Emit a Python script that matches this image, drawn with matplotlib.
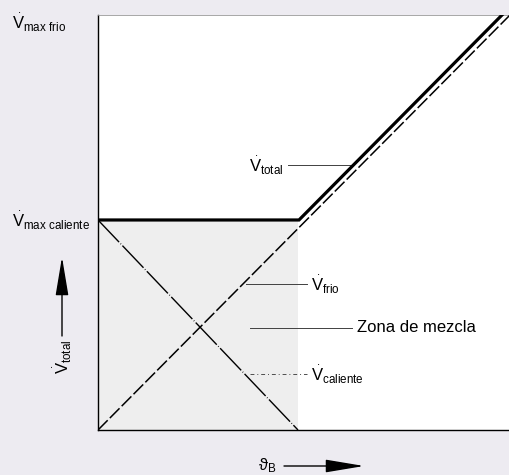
import matplotlib
matplotlib.use('Agg')
import matplotlib.pyplot as plt
import numpy as np

plt.rcParams['font.family'] = ['Liberation Sans', 'DejaVu Sans']
plt.rcParams['mathtext.fontset'] = 'custom'
plt.rcParams['mathtext.rm'] = 'Liberation Sans'
plt.rcParams['mathtext.it'] = 'Liberation Sans'
plt.rcParams['mathtext.bf'] = 'Liberation Sans:bold'

# curves (x: mixing temperature, y: flow, mixing zone ends at x = 1)
x_frio = [0.0, 2.06]
y_frio = [0.0, 1.976]
x_cal = [0.0, 1.0]
y_cal = [1.0, 0.0]
x_total = [0.0, 1.005, 2.02]
y_total = [1.0, 1.0, 1.976]
mix_x = [0.0, 1.0]
mix_y = [0.0, 1.0]

# leader lines: (y, x start, x end)
leaders_y = [1.262, 0.695, 0.486, 0.267]
leaders_x0 = [0.95, 0.74, 0.76, 0.76]
leaders_x1 = [1.27, 1.045, 1.27, 1.045]


def vdot(sub):
    # dot over the V, nudged to the middle of the glyph
    return r'$\overset{\enspace.}{\mathrm{V}}_{\mathrm{' + sub + '}}$'


bg = '#EDEBF1'
f = plt.figure(figsize=(5.1, 4.75), dpi=100)
f.set_facecolor(bg)
ax = f.add_axes([98/510., 45/475., 412/510., 415/475.])
ax.set_facecolor('white')
ax.set_xlim(0, 2.06)
ax.set_ylim(0, 1.976)
ax.set_xticks([])
ax.set_yticks([])
ax.spines['right'].set_visible(False)
ax.spines['top'].set_color('0.6')
ax.spines['top'].set_linewidth(0.6)
for s in ('left', 'bottom'):
    ax.spines[s].set_linewidth(1.0)

# mixing zone
ax.fill_between(mix_x, mix_y[0], mix_y[1], color='#EEEEEE', lw=0, zorder=0)

ax.plot(x_frio, y_frio, color='k', lw=1.1, dashes=(9, 2), zorder=3)
ax.plot(x_cal, y_cal, color='k', lw=1.0, dashes=(22, 1.5, 0.5, 1.5), zorder=3)
ax.plot(x_total, y_total, color='k', lw=2.3, solid_joinstyle='miter', zorder=4)

# leaders
for i, (yl, xa, xb) in enumerate(zip(leaders_y, leaders_x0, leaders_x1)):
    if i == 3:
        ax.plot([xa, xb], [yl, yl], color='0.3', lw=0.7, dashes=(4, 3, 1, 3))
    else:
        ax.plot([xa, xb], [yl, yl], color='0.25', lw=0.7)

fs = 12
ax.text(0.925, leaders_y[0], vdot('total'), fontsize=fs, ha='right', va='center')
ax.text(1.065, leaders_y[1], vdot('frio'), fontsize=fs, ha='left', va='center')
ax.text(1.295, leaders_y[2], 'Zona de mezcla', fontsize=fs, ha='left', va='center')
ax.text(1.065, leaders_y[3], vdot('caliente'), fontsize=fs, ha='left', va='center')

# labels outside the axes (figure pixels)
def fx(px):
    return px / 510.

def fy(py):
    return 1 - py / 475.

f.text(fx(12), fy(22), vdot(r'max\ frio'), fontsize=fs, ha='left', va='center')
f.text(fx(12), fy(220), vdot(r'max\ caliente'), fontsize=fs, ha='left', va='center')
f.text(fx(62), fy(357), vdot('total'), fontsize=fs,
       ha='center', va='center', rotation=90)
f.text(fx(267), fy(466), r'$\vartheta_{\mathrm{B}}$', fontsize=fs,
       ha='center', va='center')

arr = dict(arrowstyle='-|>,head_length=1.2,head_width=0.2', color='k', lw=1.0,
           mutation_scale=20, shrinkA=0, shrinkB=0)
f.add_artist(matplotlib.patches.FancyArrowPatch((fx(62), fy(336)), (fx(62), fy(257)),
             transform=f.transFigure, **arr))
f.add_artist(matplotlib.patches.FancyArrowPatch((fx(284), fy(466)), (fx(364), fy(466)),
             transform=f.transFigure, **arr))

f.savefig('out.png', dpi=100, facecolor=bg)
